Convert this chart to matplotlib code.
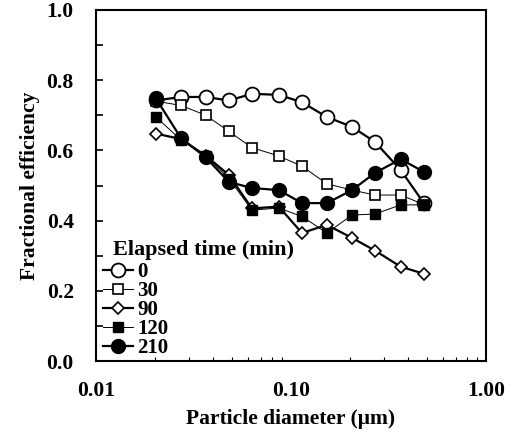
import matplotlib
matplotlib.use("Agg")
import matplotlib.pyplot as plt
from matplotlib.ticker import FixedLocator, MultipleLocator, LogLocator, NullFormatter, FuncFormatter

plt.rcParams['font.family'] = ['Liberation Serif', 'DejaVu Serif']
plt.rcParams['font.weight'] = 'bold'

diam = [0.0203, 0.0273, 0.0366, 0.0481, 0.0631, 0.0867, 0.114, 0.153, 0.206, 0.270, 0.366, 0.481]
eff_0 = [0.742, 0.752, 0.752, 0.742, 0.761, 0.758, 0.737, 0.695, 0.667, 0.624, 0.544, 0.450]
eff_30 = [0.740, 0.728, 0.700, 0.654, 0.608, 0.584, 0.555, 0.505, 0.487, 0.473, 0.473, 0.446]
eff_90 = [0.648, 0.632, 0.585, 0.530, 0.435, 0.440, 0.365, 0.388, 0.351, 0.315, 0.269, 0.249]
eff_120 = [0.695, 0.630, 0.585, 0.520, 0.430, 0.436, 0.412, 0.365, 0.416, 0.419, 0.445, 0.445]
eff_210 = [0.748, 0.635, 0.580, 0.510, 0.493, 0.487, 0.450, 0.450, 0.487, 0.536, 0.575, 0.539]
labels = ['0', '30', '90', '120', '210']

fig = plt.figure(figsize=(5.13, 4.46), dpi=100)
ax = fig.add_axes([0.187, 0.19, 0.760, 0.788])

ax.plot(diam, eff_0, '-o', color='black', lw=1.6, mfc='white', mec='black', mew=1.3, ms=10, label=labels[0])
ax.plot(diam, eff_30, '-s', color='black', lw=0.7, mfc='white', mec='black', mew=1.2, ms=6.5, label=labels[1])
ax.plot(diam, eff_90, '-D', color='black', lw=1.6, mfc='white', mec='black', mew=1.2, ms=6, label=labels[2])
ax.plot(diam, eff_120, '-s', color='black', lw=0.7, mfc='black', mec='black', ms=7, label=labels[3])
ax.plot(diam, eff_210, '-o', color='black', lw=1.6, mfc='black', mec='black', ms=10, label=labels[4])

ax.set_xscale('log')
ax.set_xlim(0.01, 1.0)
ax.set_ylim(0.0, 1.0)
ax.xaxis.set_major_locator(FixedLocator([0.01, 0.1, 1.0]))
ax.xaxis.set_major_formatter(FuncFormatter(lambda v, p: f"{v:.2f}"))
ax.xaxis.set_minor_locator(LogLocator(base=10, subs=range(2, 10)))
ax.xaxis.set_minor_formatter(NullFormatter())
ax.yaxis.set_major_locator(MultipleLocator(0.2))
ax.yaxis.set_minor_locator(MultipleLocator(0.1))
ax.yaxis.set_major_formatter(FuncFormatter(lambda v, p: f"{v:.1f}"))

for s in ax.spines.values():
    s.set_linewidth(1.5)
ax.tick_params(axis='both', which='both', direction='in', top=False, right=False)
ax.tick_params(axis='y', which='both', length=5, width=1.2, labelsize=15.5, pad=16)
ax.tick_params(axis='x', which='major', length=0, labelsize=15.5, pad=14)
ax.tick_params(axis='x', which='minor', length=3, width=0.8)

ax.set_xlabel('Particle diameter (\u03bcm)', fontsize=15.5, fontweight='bold', labelpad=6)
ax.set_ylabel('Fractional efficiency', fontsize=15.5, fontweight='bold', labelpad=5)

leg = ax.legend(title='Elapsed time (min)', loc='lower left', bbox_to_anchor=(0.01, 0.0),
                frameon=False,
                fontsize=15, title_fontproperties={'size': 16, 'weight': 'bold'},
                handlelength=1.45, handletextpad=0.2, labelspacing=-0.05,
                borderaxespad=0.15, borderpad=0.0)
leg._legend_box.align = 'left'
leg.get_title().set_position((10, 3))

fig.savefig('out.png', dpi=100)
